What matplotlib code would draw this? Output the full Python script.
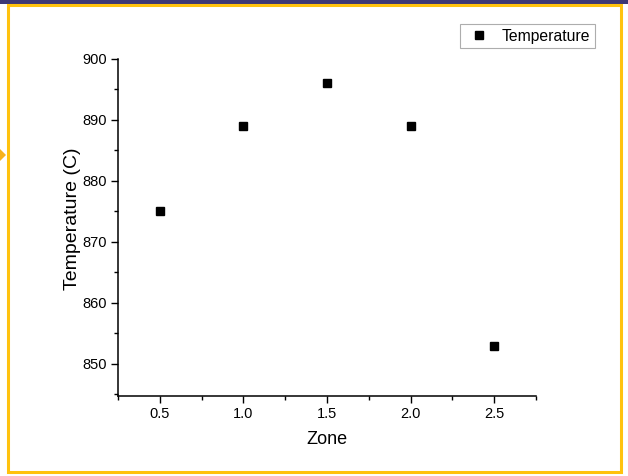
import matplotlib
matplotlib.use("Agg")
import matplotlib.pyplot as plt
from matplotlib.patches import Rectangle, Polygon
from matplotlib.ticker import MultipleLocator

zones = [0.5, 1.0, 1.5, 2.0, 2.5]
temperature = [875, 889, 896, 889, 853]
xticks = [0.5, 1.0, 1.5, 2.0, 2.5]
yticks = [850, 860, 870, 880, 890, 900]

plt.rcParams['font.family'] = ['Liberation Sans', 'DejaVu Sans']

W, H = 628, 476
fig = plt.figure(figsize=(W / 100, H / 100), dpi=100)
fig.patch.set_facecolor('white')

# decorative frame
fig.add_artist(Rectangle((0, 1 - 3.5 / H), 1, 3.5 / H, transform=fig.transFigure,
                         facecolor='#3d3875', edgecolor='none', zorder=0))
fig.add_artist(Rectangle((8 / W, 4 / H), (621 - 8) / W, (472 - 5) / H,
                         transform=fig.transFigure, facecolor='none',
                         edgecolor='#ffc20e', linewidth=2.2, zorder=0))
fig.add_artist(Polygon([(0, 1 - 149 / H), (6 / W, 1 - 155 / H), (0, 1 - 161 / H)],
                       closed=True, transform=fig.transFigure,
                       facecolor='#f7b21b', edgecolor='none'))

ax = fig.add_axes([118 / W, 1 - 396 / H, (536 - 118) / W, (396 - 59) / H])
ax.plot(zones, temperature, linestyle='none', marker='s', markersize=5.5,
        color='black', label='Temperature')

ax.set_xlim(0.25, 2.75)
ax.set_ylim(844.75, 900)
ax.set_xticks(xticks)
ax.set_xticklabels([f"{v:.1f}" for v in xticks])
ax.set_yticks(yticks)
ax.set_yticklabels([str(v) for v in yticks])
ax.xaxis.set_minor_locator(MultipleLocator(0.25))
ax.yaxis.set_minor_locator(MultipleLocator(5))

for s in ['top', 'right']:
    ax.spines[s].set_visible(False)
for s in ['left', 'bottom']:
    ax.spines[s].set_linewidth(1.1)

ax.tick_params(which='major', direction='out', length=5, width=1.0, labelsize=10.5, pad=3)
ax.tick_params(which='minor', direction='out', length=3, width=1.0)

ax.set_xlabel('Zone', fontsize=13, labelpad=7)
ax.set_ylabel('Temperature (C)', fontsize=14)
ax.yaxis.set_label_coords(-0.088, 0.525)

leg = fig.legend(loc='upper right', bbox_to_anchor=(595 / W, 1 - 24 / H),
                 fontsize=11.3, frameon=True, fancybox=False, borderpad=0.3,
                 handletextpad=0.6, borderaxespad=0, handlelength=1.75)
leg.get_frame().set_edgecolor('#999999')
leg.get_frame().set_linewidth(0.8)

fig.savefig('out.png', dpi=100)
